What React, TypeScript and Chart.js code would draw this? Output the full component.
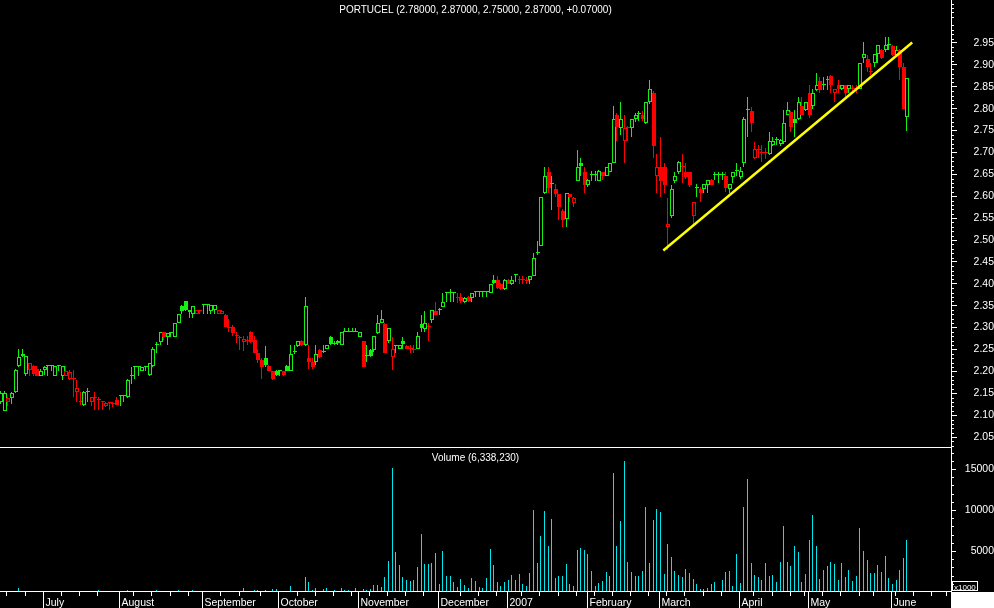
import React, { useEffect, useRef } from 'react';
import { Chart, registerables } from 'chart.js';

Chart.register(...registerables);

// ---------- data (one entry per trading day, 16 Jun 2006 .. 8 Jun 2007) ----------
const OPEN = [
  2.13, 2.11, 2.13, 2.14, 2.153, 2.213, 2.24, 2.195, 2.203, 2.213,
  2.205, 2.19, 2.203, 2.212, 2.212, 2.19, 2.213, 2.19, 2.19, 2.183,
  2.183, 2.152, 2.13, 2.122, 2.153, 2.13, 2.14, 2.135, 2.13, 2.121,
  2.127, 2.126, 2.135, 2.143, 2.143, 2.142, 2.19, 2.21, 2.211, 2.201,
  2.211, 2.192, 2.213, 2.26, 2.268, 2.29, 2.279, 2.288, 2.279, 2.311,
  2.35, 2.36, 2.335, 2.331, 2.331, 2.338, 2.352, 2.352, 2.338, 2.34,
  2.331, 2.331, 2.329, 2.3, 2.302, 2.28, 2.277, 2.267, 2.27, 2.29,
  2.272, 2.242, 2.226, 2.231, 2.213, 2.2, 2.201, 2.2, 2.2, 2.213,
  2.201, 2.245, 2.258, 2.27, 2.26, 2.231, 2.222, 2.222, 2.249, 2.245,
  2.251, 2.279, 2.262, 2.27, 2.26, 2.29, 2.29, 2.29, 2.29, 2.279,
  2.27, 2.235, 2.249, 2.249, 2.288, 2.311, 2.308, 2.27, 2.233, 2.258,
  2.251, 2.27, 2.258, 2.25, 2.249, 2.251, 2.308, 2.297, 2.302, 2.318,
  2.338, 2.34, 2.347, 2.379, 2.379, 2.38, 2.368, 2.37, 2.359, 2.37,
  2.368, 2.381, 2.381, 2.381, 2.381, 2.379, 2.409, 2.409, 2.4, 2.388,
  2.409, 2.4, 2.42, 2.409, 2.408, 2.407, 2.409, 2.418, 2.47, 2.487,
  2.608, 2.655, 2.628, 2.617, 2.605, 2.566, 2.548, 2.605, 2.585, 2.635,
  2.676, 2.655, 2.626, 2.649, 2.649, 2.635, 2.655, 2.646, 2.655, 2.676,
  2.786, 2.756, 2.726, 2.755, 2.756, 2.776, 2.788, 2.786, 2.767, 2.815,
  2.836, 2.646, 2.667, 2.667, 2.53, 2.555, 2.635, 2.655, 2.667, 2.655,
  2.655, 2.555, 2.619, 2.617, 2.617, 2.626, 2.637, 2.649, 2.649, 2.649,
  2.646, 2.617, 2.644, 2.658, 2.644, 2.676, 2.797, 2.795, 2.687, 2.706,
  2.699, 2.698, 2.697, 2.717, 2.729, 2.72, 2.724, 2.786, 2.792, 2.776,
  2.776, 2.806, 2.797, 2.836, 2.806, 2.843, 2.863, 2.854, 2.866, 2.875,
  2.836, 2.854, 2.845, 2.854, 2.845, 2.845, 2.844, 2.845, 2.916, 2.913,
  2.884, 2.904, 2.925, 2.934, 2.934, 2.945, 2.943, 2.923, 2.934, 2.895,
  2.78,
];
const HIGH = [
  2.155, 2.155, 2.142, 2.153, 2.205, 2.25, 2.25, 2.235, 2.22, 2.215,
  2.213, 2.205, 2.213, 2.213, 2.213, 2.213, 2.213, 2.213, 2.213, 2.203,
  2.203, 2.18, 2.153, 2.155, 2.162, 2.142, 2.153, 2.142, 2.132, 2.13,
  2.13, 2.13, 2.142, 2.143, 2.145, 2.182, 2.211, 2.211, 2.213, 2.211,
  2.213, 2.22, 2.255, 2.267, 2.29, 2.29, 2.288, 2.29, 2.311, 2.331,
  2.352, 2.36, 2.34, 2.35, 2.34, 2.34, 2.353, 2.353, 2.352, 2.352,
  2.34, 2.34, 2.33, 2.32, 2.306, 2.29, 2.281, 2.281, 2.281, 2.292,
  2.281, 2.25, 2.23, 2.258, 2.215, 2.201, 2.203, 2.203, 2.201, 2.215,
  2.26, 2.26, 2.27, 2.272, 2.37, 2.26, 2.23, 2.26, 2.25, 2.26,
  2.26, 2.28, 2.27, 2.272, 2.29, 2.3, 2.3, 2.3, 2.3, 2.29,
  2.27, 2.26, 2.25, 2.281, 2.329, 2.34, 2.31, 2.3, 2.279, 2.26,
  2.26, 2.279, 2.26, 2.26, 2.26, 2.29, 2.329, 2.338, 2.311, 2.34,
  2.359, 2.345, 2.38, 2.38, 2.388, 2.381, 2.38, 2.38, 2.37, 2.372,
  2.38, 2.381, 2.381, 2.381, 2.381, 2.4, 2.42, 2.418, 2.402, 2.41,
  2.41, 2.418, 2.42, 2.418, 2.418, 2.415, 2.418, 2.47, 2.498, 2.598,
  2.667, 2.667, 2.646, 2.628, 2.606, 2.57, 2.608, 2.606, 2.598, 2.706,
  2.687, 2.667, 2.64, 2.658, 2.658, 2.66, 2.656, 2.667, 2.676, 2.806,
  2.79, 2.815, 2.786, 2.76, 2.776, 2.79, 2.795, 2.795, 2.815, 2.866,
  2.84, 2.697, 2.735, 2.676, 2.596, 2.626, 2.655, 2.68, 2.697, 2.676,
  2.656, 2.587, 2.628, 2.62, 2.628, 2.637, 2.64, 2.655, 2.655, 2.655,
  2.655, 2.628, 2.655, 2.676, 2.667, 2.78, 2.827, 2.804, 2.724, 2.717,
  2.717, 2.71, 2.747, 2.735, 2.735, 2.73, 2.797, 2.815, 2.795, 2.797,
  2.827, 2.827, 2.815, 2.854, 2.845, 2.882, 2.872, 2.872, 2.875, 2.876,
  2.845, 2.866, 2.854, 2.855, 2.854, 2.854, 2.854, 2.904, 2.952, 2.923,
  2.904, 2.925, 2.945, 2.936, 2.964, 2.964, 2.945, 2.943, 2.936, 2.904,
  2.87,
];
const LOW = [
  2.125, 2.11, 2.12, 2.125, 2.15, 2.21, 2.232, 2.19, 2.19, 2.19,
  2.19, 2.19, 2.192, 2.19, 2.2, 2.19, 2.2, 2.18, 2.19, 2.18,
  2.142, 2.13, 2.124, 2.12, 2.13, 2.121, 2.112, 2.112, 2.112, 2.118,
  2.112, 2.118, 2.124, 2.121, 2.13, 2.14, 2.17, 2.183, 2.19, 2.2,
  2.2, 2.19, 2.21, 2.242, 2.26, 2.272, 2.26, 2.279, 2.279, 2.31,
  2.331, 2.338, 2.322, 2.322, 2.331, 2.331, 2.331, 2.331, 2.331, 2.331,
  2.331, 2.33, 2.302, 2.29, 2.28, 2.265, 2.249, 2.247, 2.26, 2.265,
  2.242, 2.22, 2.183, 2.21, 2.2, 2.18, 2.19, 2.19, 2.19, 2.2,
  2.2, 2.24, 2.255, 2.258, 2.258, 2.206, 2.206, 2.215, 2.23, 2.243,
  2.25, 2.26, 2.26, 2.26, 2.26, 2.29, 2.29, 2.29, 2.29, 2.279,
  2.21, 2.222, 2.233, 2.245, 2.285, 2.31, 2.242, 2.265, 2.203, 2.242,
  2.25, 2.25, 2.25, 2.242, 2.242, 2.25, 2.29, 2.29, 2.27, 2.311,
  2.329, 2.329, 2.347, 2.359, 2.359, 2.359, 2.355, 2.355, 2.355, 2.359,
  2.359, 2.37, 2.37, 2.37, 2.37, 2.379, 2.4, 2.388, 2.386, 2.386,
  2.4, 2.398, 2.405, 2.4, 2.4, 2.4, 2.4, 2.418, 2.465, 2.487,
  2.605, 2.608, 2.569, 2.598, 2.546, 2.53, 2.53, 2.587, 2.576, 2.635,
  2.646, 2.608, 2.62, 2.635, 2.635, 2.635, 2.637, 2.646, 2.655, 2.676,
  2.726, 2.74, 2.676, 2.726, 2.735, 2.77, 2.772, 2.772, 2.765, 2.81,
  2.687, 2.608, 2.598, 2.608, 2.477, 2.55, 2.63, 2.65, 2.63, 2.64,
  2.62, 2.537, 2.598, 2.587, 2.608, 2.608, 2.626, 2.637, 2.63, 2.637,
  2.61, 2.608, 2.63, 2.646, 2.64, 2.667, 2.735, 2.747, 2.685, 2.687,
  2.678, 2.685, 2.695, 2.715, 2.717, 2.715, 2.72, 2.785, 2.747, 2.735,
  2.775, 2.785, 2.795, 2.779, 2.8, 2.84, 2.836, 2.843, 2.843, 2.836,
  2.815, 2.836, 2.843, 2.827, 2.836, 2.836, 2.836, 2.845, 2.904, 2.884,
  2.877, 2.895, 2.904, 2.914, 2.93, 2.934, 2.92, 2.92, 2.866, 2.8,
  2.75,
];
const CLOSE = [
  2.15, 2.15, 2.14, 2.15, 2.203, 2.233, 2.235, 2.235, 2.218, 2.193,
  2.19, 2.201, 2.211, 2.212, 2.212, 2.213, 2.213, 2.213, 2.2, 2.198,
  2.183, 2.162, 2.13, 2.153, 2.153, 2.142, 2.138, 2.135, 2.13, 2.128,
  2.127, 2.125, 2.124, 2.143, 2.143, 2.18, 2.192, 2.211, 2.211, 2.211,
  2.211, 2.219, 2.25, 2.26, 2.29, 2.279, 2.288, 2.288, 2.311, 2.331,
  2.338, 2.34, 2.34, 2.35, 2.34, 2.338, 2.352, 2.352, 2.352, 2.352,
  2.34, 2.338, 2.302, 2.298, 2.288, 2.28, 2.277, 2.275, 2.27, 2.268,
  2.243, 2.226, 2.21, 2.215, 2.201, 2.183, 2.192, 2.2, 2.192, 2.201,
  2.24, 2.245, 2.27, 2.26, 2.35, 2.222, 2.21, 2.24, 2.233, 2.245,
  2.26, 2.262, 2.265, 2.265, 2.29, 2.29, 2.29, 2.29, 2.29, 2.29,
  2.21, 2.235, 2.236, 2.281, 2.311, 2.32, 2.242, 2.3, 2.251, 2.258,
  2.26, 2.262, 2.251, 2.25, 2.249, 2.281, 2.3, 2.311, 2.302, 2.34,
  2.329, 2.34, 2.359, 2.379, 2.38, 2.38, 2.368, 2.36, 2.368, 2.36,
  2.379, 2.381, 2.381, 2.381, 2.381, 2.4, 2.402, 2.39, 2.388, 2.409,
  2.4, 2.409, 2.42, 2.409, 2.408, 2.407, 2.418, 2.459, 2.47, 2.598,
  2.646, 2.619, 2.628, 2.605, 2.576, 2.546, 2.608, 2.598, 2.597, 2.667,
  2.668, 2.626, 2.637, 2.649, 2.649, 2.658, 2.646, 2.667, 2.676, 2.776,
  2.758, 2.776, 2.756, 2.755, 2.776, 2.786, 2.788, 2.776, 2.815, 2.845,
  2.715, 2.667, 2.635, 2.626, 2.537, 2.617, 2.646, 2.678, 2.667, 2.644,
  2.626, 2.587, 2.619, 2.608, 2.628, 2.637, 2.626, 2.649, 2.649, 2.649,
  2.619, 2.628, 2.655, 2.658, 2.658, 2.776, 2.797, 2.767, 2.708, 2.706,
  2.699, 2.698, 2.726, 2.726, 2.729, 2.729, 2.767, 2.797, 2.758, 2.767,
  2.815, 2.786, 2.815, 2.786, 2.836, 2.854, 2.843, 2.854, 2.866, 2.854,
  2.845, 2.844, 2.854, 2.836, 2.854, 2.845, 2.844, 2.904, 2.925, 2.895,
  2.884, 2.925, 2.945, 2.916, 2.945, 2.945, 2.923, 2.934, 2.895, 2.80,
  2.87,
];
// volume in thousands of shares
const VOLUME = [
  20, 20, 20, 20, 120, 530, 20, 20, 20, 20,
  20, 20, 20, 20, 20, 20, 20, 20, 20, 20,
  20, 120, 20, 20, 20, 120, 160, 250, 120, 120,
  120, 120, 20, 20, 20, 280, 120, 20, 20, 20,
  20, 20, 20, 250, 120, 120, 20, 20, 20, 280,
  120, 120, 160, 250, 120, 20, 20, 20, 20, 20,
  120, 120, 120, 120, 120, 120, 20, 530, 20, 120,
  250, 250, 120, 250, 120, 400, 400, 120, 120, 20,
  730, 120, 120, 120, 1830, 1220, 250, 490, 120, 400,
  490, 120, 250, 120, 490, 250, 250, 120, 490, 120,
  370, 250, 370, 850, 850, 610, 1830, 3780, 15100, 4880,
  3300, 1830, 1465, 1340, 1465, 3050, 7080, 3380, 3380, 3540,
  4760, 980, 5000, 1950, 1950, 1220, 610, 1590, 850, 490,
  1710, 1340, 610, 490, 1710, 5250, 3300, 1220, 730, 1220,
  1465, 2075, 1465, 2200, 980, 730, 2320, 10010, 3540, 6840,
  9890, 5620, 8910, 1710, 1950, 1950, 3420, 980, 730, 5130,
  5370, 5130, 4640, 2560, 730, 1100, 1340, 2440, 1950, 14530,
  5620, 8670, 16000, 3660, 2440, 1950, 1950, 2560, 10380, 3540,
  8790, 10130, 9770, 2200, 5860, 4270, 2560, 2075, 1830, 2810,
  2320, 1590, 980, 370, 370, 490, 980, 1220, 120, 1465,
  2440, 2560, 730, 4640, 1100, 10380, 13800, 3540, 2075, 1830,
  1465, 3540, 1950, 2075, 1220, 3660, 8060, 3660, 3170, 5620,
  4880, 1220, 2200, 6350, 9400, 5620, 1590, 2690, 3170, 3660,
  3420, 1465, 3540, 1830, 2690, 1340, 1950, 7810, 5000, 3900,
  2320, 2320, 3300, 2440, 4400, 1710, 980, 1465, 2690, 4150,
  6338.23,
];

const MONTH_LABELS = ['July', 'August', 'September', 'October', 'November', 'December', '2007', 'February', 'March', 'April', 'May', 'June'];
const MONTH_START = [11, 32, 55, 76, 98, 120, 139, 161, 181, 203, 222, 245];
const WEEK_START = [1, 6, 16, 21, 26, 36, 41, 46, 51, 60, 65, 71, 81, 86, 91, 96, 101, 106, 111, 116, 126, 131, 136, 143, 148, 153, 158, 163, 168, 173, 178, 183, 188, 193, 198, 207, 212, 217, 221, 226, 231, 236, 240, 246, 251, 256, 260];
const PRICE_TICK_LABELS = ['2.05', '2.10', '2.15', '2.20', '2.25', '2.30', '2.35', '2.40', '2.45', '2.50', '2.55', '2.60', '2.65', '2.70', '2.75', '2.80', '2.85', '2.90', '2.95'];
const VOLUME_TICK_LABELS = ['5000', '10000', '15000'];
const TREND_X = [182.65, 251.3];
const TREND_Y = [2.476, 2.951];

// ---------- style ----------
const GREEN = '#14f014';
const RED = '#ff0000';
const CYAN = '#00e6ee';
const YELLOW = '#ffff00';
const WHITE = '#ffffff';
const FONT = '"Liberation Sans", Arial, sans-serif';
const X_MIN = -0.276;
const X_MAX = 262.0;
const P_MIN = 2.0272;
const P_MAX = 3.0482;
const V_MAX = 17561;
const AXIS_W = 43;

const last = CLOSE.length - 1;
const f5 = (v: number) => v.toFixed(5);
const change = CLOSE[last] - CLOSE[last - 1];
const PRICE_TITLE = `PORTUCEL (${f5(OPEN[last])}, ${f5(HIGH[last])}, ${f5(LOW[last])}, ${f5(CLOSE[last])}, ${change >= 0 ? '+' : ''}${f5(change)})`;
const VOLUME_TITLE = `Volume (${Math.round(VOLUME[last] * 1000).toLocaleString('en-US')})`;

const fitAxis = (s: any) => {
  s.width = AXIS_W;
  s.paddingTop = 0;
  s.paddingBottom = 0;
  s.paddingLeft = 0;
  s.paddingRight = 0;
};

const crispPlugin = {
  id: 'crisp',
  afterDatasetsUpdate(chart: any) {
    chart.data.datasets.forEach((_ds: any, di: number) => {
      const meta = chart.getDatasetMeta(di);
      if (meta.type !== 'bar') return;
      meta.data.forEach((el: any) => {
        const w = Math.max(1, Math.round(el.width));
        const c = Math.round(el.x);
        el.width = w;
        el.x = w % 2 === 1 ? c - 0.5 : c;
        const top = Math.round(Math.min(el.y, el.base));
        let bot = Math.round(Math.max(el.y, el.base));
        if (bot - top < 1) bot = top + 1;
        el.y = top;
        el.base = bot;
      });
    });
  },
};

function line(ctx: CanvasRenderingContext2D, x1: number, y1: number, x2: number, y2: number) {
  ctx.beginPath();
  ctx.moveTo(x1, y1);
  ctx.lineTo(x2, y2);
  ctx.stroke();
}

const priceDecor = {
  id: 'priceDecor',
  afterDraw(chart: any) {
    const ctx: CanvasRenderingContext2D = chart.ctx;
    const area = chart.chartArea;
    const ys = chart.scales.y;
    ctx.save();
    ctx.strokeStyle = WHITE;
    ctx.lineWidth = 1;
    // panel separator
    line(ctx, 0, area.bottom + 0.5, area.right + 1, area.bottom + 0.5);
    // minor ticks every 0.01
    for (let c = 203; c <= 304; c++) {
      if (c % 5 === 0) continue;
      const py = Math.round(ys.getPixelForValue(c / 100)) + 0.5;
      line(ctx, area.right, py, area.right + 3, py);
    }
    ctx.fillStyle = WHITE;
    ctx.font = `10px ${FONT}`;
    ctx.textAlign = 'center';
    ctx.textBaseline = 'alphabetic';
    ctx.fillText(PRICE_TITLE, (area.left + area.right) / 2, 13);
    ctx.restore();
  },
};

const volumeDecor = {
  id: 'volumeDecor',
  afterDraw(chart: any) {
    const ctx: CanvasRenderingContext2D = chart.ctx;
    const area = chart.chartArea;
    const xs = chart.scales.x;
    const ys = chart.scales.y;
    const H = chart.height;
    const W = chart.width;
    ctx.save();
    ctx.strokeStyle = WHITE;
    ctx.fillStyle = WHITE;
    ctx.lineWidth = 1;
    // baseline
    line(ctx, 0, area.bottom - 0.5, area.right + 1, area.bottom - 0.5);
    // minor y ticks
    for (let v = 1000; v < V_MAX; v += 1000) {
      if (v % 5000 === 0) continue;
      const py = Math.round(ys.getPixelForValue(v)) + 0.5;
      line(ctx, area.right, py, area.right + 3, py);
    }
    // bottom-right block
    ctx.fillRect(area.right, area.bottom, W - area.right, H - area.bottom);
    // x1000 box
    ctx.strokeRect(area.right + 1.5, area.bottom - 10.5, 25, 9);
    ctx.font = `8px ${FONT}`;
    ctx.textAlign = 'left';
    ctx.fillText('x1000', area.right + 3, area.bottom - 2.5);
    // week ticks
    WEEK_START.forEach((w) => {
      const px = Math.round(xs.getPixelForValue(w + 0.5)) + 0.5;
      if (px > area.right) return;
      line(ctx, px, area.bottom, px, area.bottom + 4);
    });
    // month ticks + labels
    ctx.font = `10.5px ${FONT}`;
    ctx.textAlign = 'left';
    MONTH_START.forEach((m, k) => {
      const px = Math.round(xs.getPixelForValue(m + 0.5)) + 0.5;
      line(ctx, px, area.bottom, px, H);
      ctx.fillText(MONTH_LABELS[k], px + 2, H - 2);
    });
    // title
    ctx.font = `10px ${FONT}`;
    ctx.textAlign = 'center';
    ctx.fillText(VOLUME_TITLE, (area.left + area.right) / 2, 13);
    ctx.restore();
  },
};

export default function App() {
  const priceRef = useRef<HTMLCanvasElement>(null);
  const volRef = useRef<HTMLCanvasElement>(null);

  useEffect(() => {
    document.body.style.margin = '0';
    document.body.style.background = '#000';
    Chart.defaults.font.family = FONT;
    Chart.defaults.color = WHITE;

    const up = CLOSE.map((c, i) => (i === 0 ? c >= OPEN[i] : c >= CLOSE[i - 1]));
    const colors = up.map((u) => (u ? GREEN : RED));
    const bodyFill = CLOSE.map((c, i) => (c < OPEN[i] ? colors[i] : '#000000'));

    const priceChart = new Chart(priceRef.current as HTMLCanvasElement, {
      type: 'bar',
      data: {
        datasets: [
          {
            type: 'bar',
            data: CLOSE.map((_c, i) => ({ x: i, y: [LOW[i], HIGH[i]] })) as any,
            backgroundColor: colors,
            borderWidth: 0,
            barThickness: 1,
            grouped: false,
            inflateAmount: 0,
            order: 2,
          } as any,
          {
            type: 'bar',
            data: CLOSE.map((c, i) => ({ x: i, y: [OPEN[i], c] })) as any,
            backgroundColor: bodyFill,
            borderColor: colors,
            borderWidth: 1,
            borderSkipped: false,
            barThickness: 4,
            minBarLength: 1,
            grouped: false,
            inflateAmount: 0,
            order: 1,
          } as any,
          {
            type: 'line',
            data: TREND_X.map((x, i) => ({ x, y: TREND_Y[i] })),
            borderColor: YELLOW,
            borderWidth: 2.5,
            pointRadius: 0,
            order: 0,
          } as any,
        ],
      },
      options: {
        responsive: false,
        animation: false,
        devicePixelRatio: 1,
        events: [],
        layout: { autoPadding: false, padding: { left: 0, right: 0, top: 0, bottom: 1 } },
        plugins: { legend: { display: false }, tooltip: { enabled: false }, title: { display: false } },
        scales: {
          x: { type: 'linear', display: false, min: X_MIN, max: X_MAX, offset: false },
          y: {
            type: 'linear',
            position: 'right',
            min: P_MIN,
            max: P_MAX,
            afterFit: fitAxis,
            afterBuildTicks: (s: any) => { s.ticks = PRICE_TICK_LABELS.map((t) => ({ value: parseFloat(t) })); },
            ticks: {
              color: WHITE,
              autoSkip: false,
              padding: 12,
              crossAlign: 'far',
              font: { family: FONT, size: 10.5 },
              callback: (_v: any, idx: number) => PRICE_TICK_LABELS[idx],
            },
            grid: { drawOnChartArea: false, drawTicks: true, tickLength: 6, color: WHITE, tickColor: WHITE },
            border: { display: true, color: WHITE, width: 1 },
          } as any,
        },
      } as any,
      plugins: [crispPlugin, priceDecor],
    });

    const volumeChart = new Chart(volRef.current as HTMLCanvasElement, {
      type: 'bar',
      data: {
        datasets: [
          {
            data: VOLUME.map((v, i) => ({ x: i, y: v })),
            backgroundColor: CYAN,
            borderWidth: 0,
            barThickness: 1,
            grouped: false,
            inflateAmount: 0,
          } as any,
        ],
      },
      options: {
        responsive: false,
        animation: false,
        devicePixelRatio: 1,
        events: [],
        layout: { autoPadding: false, padding: { left: 0, right: 0, top: 0, bottom: 16 } },
        plugins: { legend: { display: false }, tooltip: { enabled: false } },
        scales: {
          x: { type: 'linear', display: false, min: X_MIN, max: X_MAX, offset: false },
          y: {
            type: 'linear',
            position: 'right',
            min: 0,
            max: V_MAX,
            afterFit: fitAxis,
            afterBuildTicks: (s: any) => { s.ticks = VOLUME_TICK_LABELS.map((t) => ({ value: parseFloat(t) })); },
            ticks: {
              color: WHITE,
              autoSkip: false,
              padding: 4,
              crossAlign: 'far',
              font: { family: FONT, size: 10.5 },
              callback: (_v: any, idx: number) => VOLUME_TICK_LABELS[idx],
            },
            grid: { drawOnChartArea: false, drawTicks: true, tickLength: 5, color: WHITE, tickColor: WHITE },
            border: { display: true, color: WHITE, width: 1 },
          } as any,
        },
      } as any,
      plugins: [crispPlugin, volumeDecor],
    });

    return () => {
      priceChart.destroy();
      volumeChart.destroy();
    };
  }, []);

  return (
    <div style={{ position: 'fixed', left: 0, top: 0, width: 994, height: 608, background: '#000', overflow: 'hidden' }}>
      <canvas ref={priceRef} width={994} height={448} style={{ position: 'absolute', left: 0, top: 0, width: 994, height: 448 }} />
      <canvas ref={volRef} width={994} height={160} style={{ position: 'absolute', left: 0, top: 448, width: 994, height: 160 }} />
    </div>
  );
}
